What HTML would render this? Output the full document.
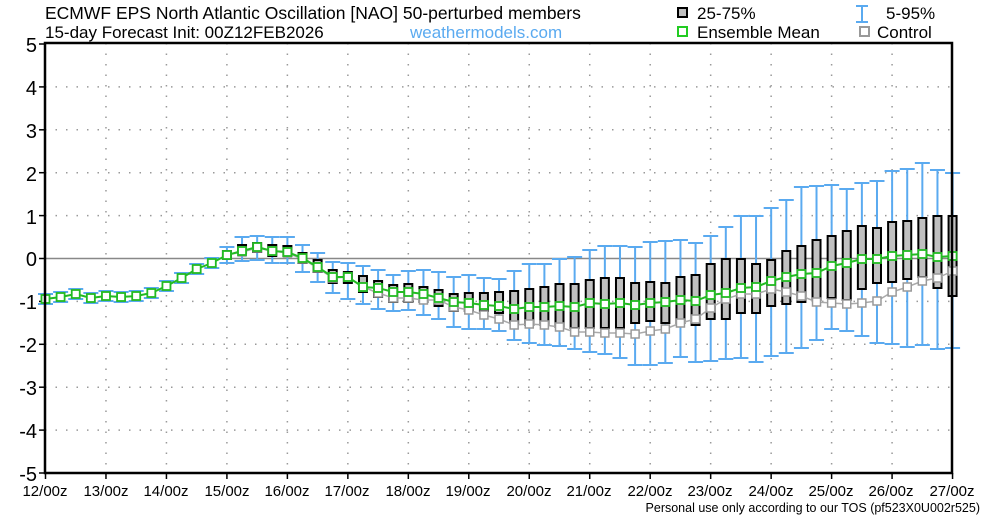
<!DOCTYPE html>
<html><head><meta charset="utf-8"><style>
body{margin:0;background:#fff;width:1000px;height:516px;overflow:hidden}
svg{display:block;font-family:"Liberation Sans","DejaVu Sans",sans-serif}
</style></head><body>
<svg id="s" width="1000" height="516" viewBox="0 0 1000 516">
<rect width="1000" height="516" fill="#fff"/>
<g id="grid"></g>
<line x1="45" y1="258.5" x2="952" y2="258.5" stroke="#888" stroke-width="1.5"/>
<g id="data"></g>
<rect x="45" y="43" width="907" height="430" fill="none" stroke="#000" stroke-width="2.5"/>
<g font-size="20" fill="#000" text-anchor="end">
<text x="37" y="52">5</text><text x="37" y="95">4</text><text x="37" y="138">3</text><text x="37" y="181">2</text><text x="37" y="224">1</text><text x="37" y="266">0</text><text x="37" y="309">-1</text><text x="37" y="352">-2</text><text x="37" y="395">-3</text><text x="37" y="438">-4</text><text x="37" y="481">-5</text>
</g>
<g font-size="15" fill="#000" text-anchor="middle">
<text x="45" y="496">12/00z</text><text x="106" y="496">13/00z</text><text x="166" y="496">14/00z</text><text x="227" y="496">15/00z</text><text x="287" y="496">16/00z</text><text x="347" y="496">17/00z</text><text x="408" y="496">18/00z</text><text x="468" y="496">19/00z</text><text x="529" y="496">20/00z</text><text x="589" y="496">21/00z</text><text x="650" y="496">22/00z</text><text x="710" y="496">23/00z</text><text x="771" y="496">24/00z</text><text x="831" y="496">25/00z</text><text x="891" y="496">26/00z</text><text x="952" y="496">27/00z</text>
</g>
<text x="980" y="512" font-size="12.5" text-anchor="end" fill="#000">Personal use only according to our TOS (pf523X0U002r525)</text>
<g fill="#000">
<text x="45" y="19" font-size="17.5">ECMWF EPS North Atlantic Oscillation [NAO]  50-perturbed members</text>
<text x="45" y="38" font-size="17">15-day Forecast Init: 00Z12FEB2026</text>
<text x="410" y="38" font-size="17" fill="#5aaaf0">weathermodels.com</text>
<text x="697" y="19" font-size="17">25-75%</text>
<text x="697" y="38" font-size="17">Ensemble Mean</text>
<text x="886" y="19" font-size="17">5-95%</text>
<text x="877" y="38" font-size="17">Control</text>
</g>
<rect x="678" y="8" width="9" height="9" fill="#c0c0c0" stroke="#000" stroke-width="2"/>
<rect x="678" y="27" width="9" height="9" fill="#fff" stroke="#22cc22" stroke-width="2"/>
<rect x="860" y="27" width="9" height="9" fill="#fff" stroke="#999" stroke-width="2"/>
<g stroke="#5aaaf0" stroke-width="2"><line x1="856" y1="6" x2="868" y2="6"/><line x1="856" y1="22" x2="868" y2="22"/><line x1="862" y1="6" x2="862" y2="22"/></g>
</svg>
<script>
var NS="http://www.w3.org/2000/svg";
function el(p,t,a){var e=document.createElementNS(NS,t);for(var k in a)e.setAttribute(k,a[k]);p.appendChild(e);return e;}
var g=document.getElementById("grid"),d=document.getElementById("data");
for(var i=0;i<=10;i++){var y=44+i*42.9;if(i==5||i==0||i==10)continue;el(g,"line",{x1:45,x2:952,y1:y,y2:y,stroke:"#999","stroke-width":1.5,"stroke-dasharray":"1.5,9"});}
for(var i=1;i<15;i++){var x=45.5+i*60.47;el(g,"line",{x1:x,x2:x,y1:43,y2:473,stroke:"#999","stroke-width":1.5,"stroke-dasharray":"1.5,9"});}
for(var i=0;i<=15;i++){var x=45.5+i*60.47;el(g,"line",{x1:x,x2:x,y1:473,y2:479,stroke:"#000","stroke-width":1.5});}
for(var i=0;i<=10;i++){var y=44+i*42.9;el(g,"line",{x1:39,x2:45,y1:y,y2:y,stroke:"#000","stroke-width":1.5});}
var early=[299,297,294,298,296,297,296,293,286,278,269,263];
var D=[];
early.forEach(function(m){D.push([m,m,m-2,m+2,m-5,m+5]);});
D=D.concat([
[255,255,251,259,247,263],[251,252,245,253,237,261],[247,248,243,252,236,260],[251,251,245,256,237,263],
[252,253,246,256,237,263],[258,259,253,263,245,272],[267,268,260,272,253,282],[277,278,270,283,262,293],
[277,277,272,283,263,299],[287,287,276,292,266,304],[288,293,281,297,270,309],[292,298,285,302,275,311],
[292,298,284,302,271,310],[294,300,287,302,270,315],[298,300,290,306,272,319],[302,307,294,311,277,327],
[303,310,293,311,275,329],[305,315,293,311,278,329],[306,319,292,313,279,331],[309,325,291,323,271,340],
[307,324,289,325,264,343],[307,325,287,325,264,345],[306,327,284,327,259,346],[307,332,284,328,257,349],
[303,332,280,328,250,352],[304,333,278,328,246,354],[303,333,278,328,246,358],[305,334,283,323,247,365],
[303,331,282,321,242,365],[302,329,283,323,241,363],[300,323,277,323,240,357],[301,319,275,325,243,362],
[295,308,264,319,236,361],[293,299,259,319,227,359],[288,294,259,313,216,358],[287,294,264,313,216,362],
[281,289,260,306,208,356],[277,292,251,304,200,353],[274,296,246,302,187,348],[273,302,240,300,186,340],
[266,303,236,298,185,329],[263,304,231,300,189,331],[259,303,226,289,183,336],[259,301,228,283,181,343],
[256,292,222,282,171,344],[255,287,221,279,169,347],[254,281,218,277,163,345],[257,278,216,288,170,349],
[256,271,216,296,173,348]]);
function X(i){return 45.5+i*15.118;}
D.forEach(function(r,i){var x=X(i);var a={stroke:"#5aaaf0","stroke-width":2};
el(d,"line",Object.assign({x1:x,x2:x,y1:r[4],y2:r[5]},a));
el(d,"line",Object.assign({x1:x-7.5,x2:x+7.5,y1:r[4],y2:r[4]},a));
el(d,"line",Object.assign({x1:x-7.5,x2:x+7.5,y1:r[5],y2:r[5]},a));});
D.forEach(function(r,i){if(i<12)return;var x=X(i);el(d,"rect",{x:x-4,y:r[2],width:8,height:r[3]-r[2],fill:"#c0c0c0",stroke:"#000","stroke-width":2});});
var pc="",pm="";D.forEach(function(r,i){pc+=(i?"L":"M")+X(i)+","+r[1];pm+=(i?"L":"M")+X(i)+","+r[0];});
el(d,"path",{d:pc,fill:"none",stroke:"#aaa","stroke-width":1.5});
D.forEach(function(r,i){el(d,"rect",{x:X(i)-4,y:r[1]-4,width:8,height:8,fill:"#fff",stroke:"#999","stroke-width":1.5});});
el(d,"path",{d:pm,fill:"none",stroke:"#22bb22","stroke-width":2});
D.forEach(function(r,i){el(d,"rect",{x:X(i)-4,y:r[0]-4,width:8,height:8,fill:"#fff",stroke:"#22bb22","stroke-width":1.8});});
</script>
</body></html>
